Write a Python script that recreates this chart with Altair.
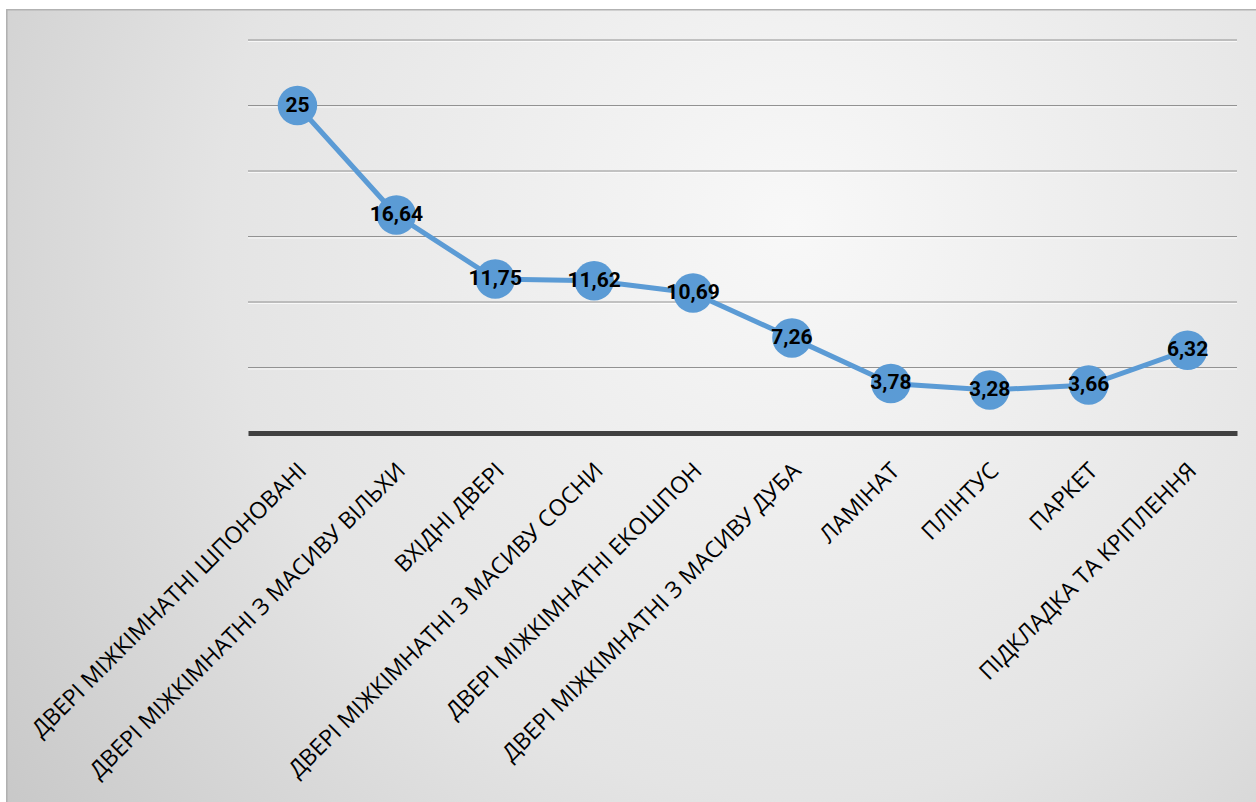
import altair as alt
import pandas as pd

categories = [
    "ДВЕРІ МІЖКІМНАТНІ ШПОНОВАНІ",
    "ДВЕРІ МІЖКІМНАТНІ З МАСИВУ ВІЛЬХИ",
    "ВХІДНІ ДВЕРІ",
    "ДВЕРІ МІЖКІМНАТНІ З МАСИВУ СОСНИ",
    "ДВЕРІ МІЖКІМНАТНІ ЕКОШПОН",
    "ДВЕРІ МІЖКІМНАТНІ З МАСИВУ ДУБА",
    "ЛАМІНАТ",
    "ПЛІНТУС",
    "ПАРКЕТ",
    "ПІДКЛАДКА ТА КРІПЛЕННЯ",
]
values = [25, 16.64, 11.75, 11.62, 10.69, 7.26, 3.78, 3.28, 3.66, 6.32]
labels = ["25", "16,64", "11,75", "11,62", "10,69", "7,26", "3,78", "3,28", "3,66", "6,32"]
grid_values = [5, 10, 15, 20, 25, 30]

df = pd.DataFrame({"cat": categories, "val": values, "lab": labels})
grid_df = pd.DataFrame({"val": grid_values})

W, H = 989, 393
LEFT, TOP = 248, 40

x_enc = alt.X(
    "cat:N",
    sort=categories,
    scale=alt.Scale(paddingInner=0, paddingOuter=0),
    axis=alt.Axis(
        title=None,
        labelAngle=-45,
        labelFont="Open Sans",
        labelFontSize=23,
        labelColor="#000000",
        labelPadding=26,
        labelOffset=-3,
        ticks=False,
        tickSize=0,
        domainColor="#404040",
        domainWidth=5,
        labelLimit=500,
        grid=False,
        zindex=1,
    ),
)
y_scale = alt.Scale(domain=[0, 30], nice=False)
y_enc = alt.Y(
    "val:Q",
    scale=y_scale,
    axis=alt.Axis(
        title=None,
        labels=False,
        ticks=False,
        domain=False,
        grid=False,
    ),
)

bg = alt.Chart(df).mark_rect(
    fill=alt.Gradient(
        gradient="radial",
        x1=0.62, y1=0.35, r1=0.0,
        x2=0.62, y2=0.35, r2=0.82,
        stops=[
            alt.GradientStop(color="#f8f8f8", offset=0),
            alt.GradientStop(color="#e4e4e4", offset=0.55),
            alt.GradientStop(color="#c4c4c4", offset=1),
        ],
    ),
    stroke="#b2b2b2",
    strokeWidth=1.2,
).encode(
    x=alt.value(7 - LEFT),
    x2=alt.value(1275 - LEFT),
    y=alt.value(10 - TOP),
    y2=alt.value(820 - TOP),
)

grid_shadow = alt.Chart(grid_df).mark_rule(color="#ffffff", strokeWidth=1, opacity=0.7).encode(
    y=alt.Y("val:Q", scale=y_scale, axis=None),
    x=alt.value(0),
    x2=alt.value(W),
    yOffset=alt.value(1.5),
)
grid = alt.Chart(grid_df).mark_rule(color="#929292", strokeWidth=1.2).encode(
    y=alt.Y("val:Q", scale=y_scale, axis=None),
    x=alt.value(0),
    x2=alt.value(W),
)

base = alt.Chart(df).encode(x=x_enc, y=y_enc)

line = base.mark_line(color="#5B9BD5", strokeWidth=5)
points = base.mark_circle(color="#5B9BD5", size=1560, opacity=1)
text = base.mark_text(
    font="Roboto",
    fontSize=21,
    fontWeight="bold",
    color="#000000",
    align="center",
    baseline="middle",
).encode(text="lab:N")

chart = (
    alt.layer(bg, grid_shadow, grid, line, points, text)
    .properties(
        width=W,
        height=H,
        autosize=alt.AutoSizeParams(type="none"),
        padding={"left": LEFT, "top": TOP, "right": 1256 - LEFT - W, "bottom": 802 - TOP - H},
        background="#ffffff",
    )
    .configure_view(stroke=None)
)

chart.save("out.html", embed_options={"renderer": "svg", "actions": False})
